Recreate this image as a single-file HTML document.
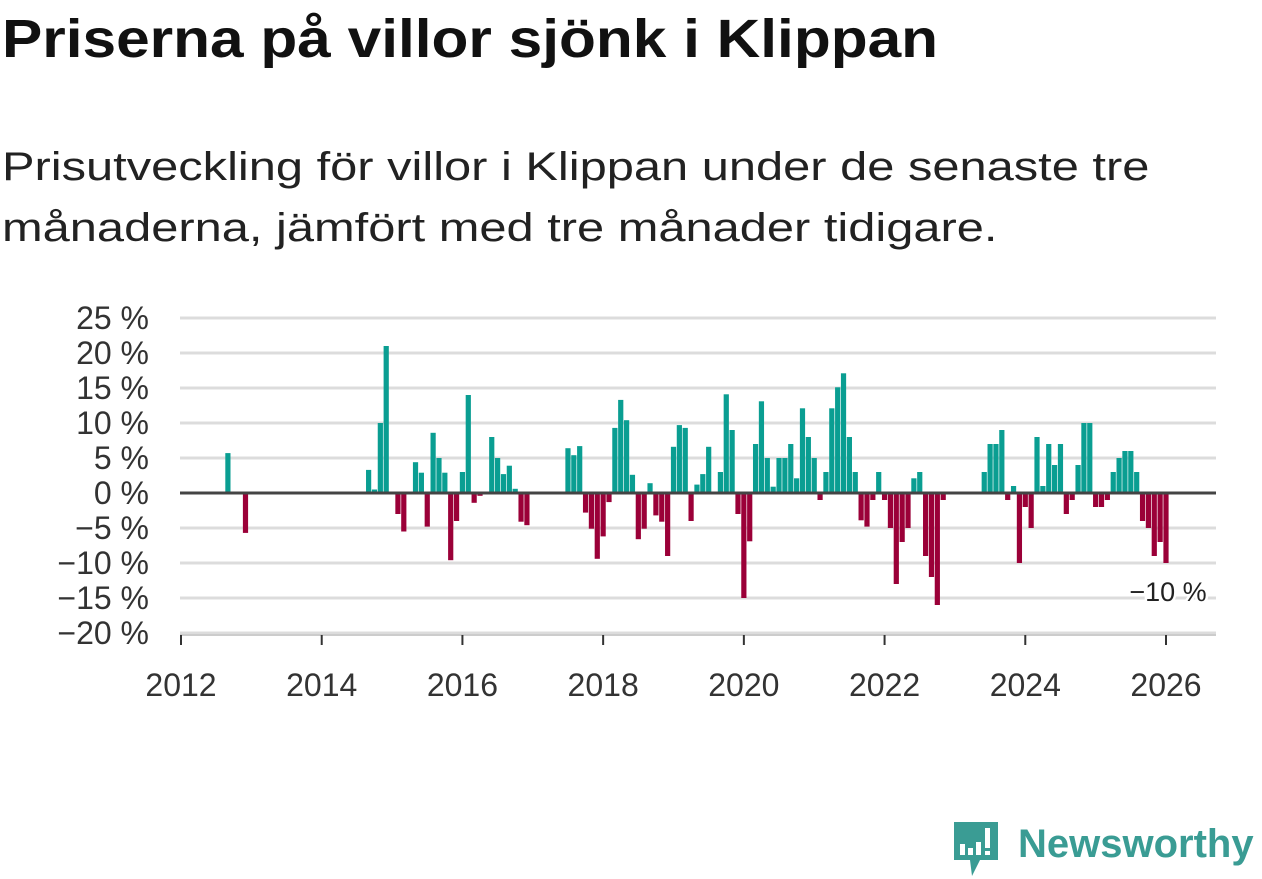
<!DOCTYPE html>
<html><head><meta charset="utf-8">
<style>
body{margin:0;width:1262px;height:879px;background:#fff;overflow:hidden;font-family:"Liberation Sans","DejaVu Sans",sans-serif;color:#111;position:relative}
#title{position:absolute;left:2px;top:8px;font-size:54px;font-weight:bold;margin:0;white-space:nowrap;transform-origin:0 0;transform:scaleX(1.118)}
#subtitle{position:absolute;left:2px;top:137px;font-size:40px;line-height:61px;color:#222;white-space:nowrap;transform-origin:0 0;transform:scaleX(1.22)}
svg{position:absolute;left:0;top:0}
#logo{position:absolute;left:950px;top:818px;width:312px;height:60px}
</style></head><body>
<h1 id="title">Priserna på villor sjönk i Klippan</h1>
<div id="subtitle">Prisutveckling för villor i Klippan under de senaste tre<br>månaderna, jämfört med tre månader tidigare.</div>
<svg id="chart" width="1262" height="879"></svg>
<div id="logo">
<svg width="60" height="60" style="left:0;top:0">
<path d="M4 4 H48 V42 H30 L22 58 L20 42 H4 Z" fill="#3a9c94"/>
<rect x="10" y="26" width="5" height="11" fill="#fff"/><rect x="18" y="30" width="5" height="7" fill="#fff"/><rect x="26" y="24" width="5" height="13" fill="#fff"/><rect x="35" y="10" width="5" height="20" fill="#fff"/><rect x="35" y="33" width="5" height="4" fill="#fff"/>
</svg>
<span style="position:absolute;left:68px;top:4px;font-size:40px;font-weight:bold;color:#3a9c94">Newsworthy</span>
</div>
<script>
const startYear = 2012;
const values = [null,null,null,null,null,null,null,null,5.7,null,null,-5.7,
null,null,null,null,null,null,null,null,null,null,null,null,
null,null,null,null,null,null,null,null,3.3,0.5,10.0,21.0,
null,-3.0,-5.5,null,4.4,2.9,-4.8,8.6,5.0,2.9,-9.6,-4.0,
3.0,14.0,-1.4,-0.4,null,8.0,5.0,2.7,3.9,0.6,-4.1,-4.6,
null,null,null,null,null,null,6.4,5.4,6.7,-2.8,-5.1,-9.4,
-6.2,-1.3,9.3,13.3,10.4,2.6,-6.6,-5.1,1.4,-3.2,-4.1,-9.0,
6.6,9.7,9.3,-4.0,1.2,2.7,6.6,null,3.0,14.1,9.0,-3.0,
-15.0,-6.9,7.0,13.1,5.0,0.9,5.0,5.0,7.0,2.1,12.1,8.0,
5.0,-1.0,3.0,12.1,15.1,17.1,8.0,3.0,-3.9,-4.8,-1.0,3.0,
-1.0,-5.0,-13.0,-7.0,-5.0,2.1,3.0,-9.0,-12.0,-16.0,-1.0,null,
null,null,null,null,null,3.0,7.0,7.0,9.0,-1.0,1.0,-10.0,
-2.0,-5.0,8.0,1.0,7.0,4.0,7.0,-3.0,-1.0,4.0,10.0,10.0,
-2.0,-2.0,-1.0,3.0,5.0,6.0,6.0,3.0,-4.0,-5.0,-9.0,-7.0,
-10.0];
const yTicks = [25,20,15,10,5,0,-5,-10,-15,-20];
const xTicks = [2012,2014,2016,2018,2020,2022,2024,2026];
const lastLabel = "−10 %";

const NS="http://www.w3.org/2000/svg";
const svg=document.getElementById('chart');
const x0=181,x1=1166,y0=493,pxPer=7;
const nMonths=(xTicks[xTicks.length-1]-startYear)*12;
function xScale(i){return x0+i*(x1-x0)/nMonths;}
function yScale(v){return y0-v*pxPer;}
function mk(t,a){const e=document.createElementNS(NS,t);for(const k in a)e.setAttribute(k,a[k]);svg.appendChild(e);return e;}
yTicks.forEach(t=>{
  const g=mk('line',{x1:180,x2:1216,y1:yScale(t),y2:yScale(t),stroke:'#dcdcdc','stroke-width':3});
  
  
  const l=mk('text',{x:149,y:yScale(t)+11,'text-anchor':'end','font-size':32,fill:'#333','font-family':'Liberation Sans, sans-serif'});
  l.textContent=(t<0?'−'+(-t):t)+' %';
  
  
});
values.forEach((v,i)=>{
  if(v===null||v===0)return;
  const xc=xScale(i);
  const b=mk('rect',{x:xc-2.6,width:5.2,y:Math.min(yScale(v),y0),height:Math.abs(v)*pxPer,fill:v>0?'#0a9e92':'#9b0038'});
  
  
});
const base=mk('line',{x1:180,x2:1216,y1:y0,y2:y0,stroke:'#444','stroke-width':3});


const ax=mk('line',{x1:180,x2:1216,y1:635,y2:635,stroke:'#ccc','stroke-width':2});


xTicks.forEach(t=>{
  const xx=xScale((t-startYear)*12);
  const tk=mk('line',{x1:xx,x2:xx,y1:635,y2:645,stroke:'#333','stroke-width':2});
  
  
  const l=mk('text',{x:xx,y:696,'text-anchor':'middle','font-size':32,fill:'#333','font-family':'Liberation Sans, sans-serif'});
  l.textContent=t;
  
  
});
const ll=mk('text',{x:1168,y:601,'text-anchor':'middle','font-size':27,fill:'#222',stroke:'#fff','stroke-width':5,'paint-order':'stroke','font-family':'Liberation Sans, sans-serif'});
ll.textContent=lastLabel;


</script>
</body></html>
